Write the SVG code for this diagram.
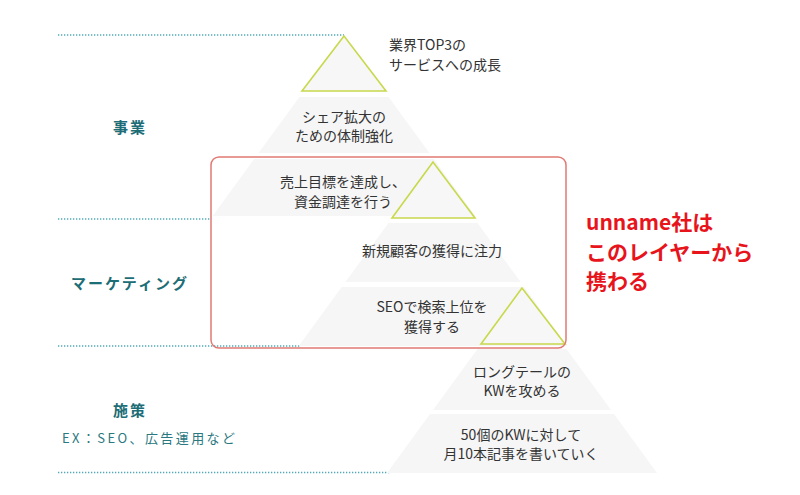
<svg xmlns="http://www.w3.org/2000/svg" width="800" height="495" viewBox="0 0 800 495">
<style>
.band{fill:#f6f6f6;}
.tri{fill:#f7f7f7;stroke:#c9d94c;stroke-width:1.6;stroke-linejoin:miter;}
.dot{stroke:#4fa9b6;stroke-width:1.5;stroke-dasharray:1.3 1.7;fill:none;}
.t{font-family:"Noto Sans CJK JP","Noto Sans",sans-serif;font-size:14px;fill:#333333;text-anchor:middle;}
.tl{text-anchor:start;}
.lab{font-family:"Noto Sans CJK JP","Noto Sans",sans-serif;font-size:15px;font-weight:bold;fill:#1d6d76;text-anchor:middle;letter-spacing:2px;}
.ex{font-family:"Noto Sans CJK JP","Noto Sans",sans-serif;font-size:13px;fill:#2a7880;letter-spacing:2.4px;}
.red{font-family:"Noto Sans CJK JP","Noto Sans",sans-serif;font-size:21px;font-weight:bold;fill:#e8141c;}
</style>
<rect width="800" height="495" fill="#ffffff"/>
<g id="guides">
<line class="dot" x1="58" y1="35" x2="344" y2="35"/>
<line class="dot" x1="58" y1="219" x2="211" y2="219"/>
<line class="dot" x1="58" y1="346" x2="301" y2="346"/>
<line class="dot" x1="58" y1="472.5" x2="390" y2="472.5"/>
</g>
<g id="pyramid1">
<polygon class="band" points="299.5,97 388.5,97 429.4,153 258.6,153"/>
<polygon class="band" points="254.2,159 433.8,159 475.4,216 212.6,216"/>
<polygon class="tri" points="344,36 302,91 386,91"/>
<text class="t tl" x="389" y="50">業界TOP3の</text>
<text class="t tl" x="389" y="70">サービスへの成長</text>
<text class="t" x="344" y="122">シェア拡大の</text>
<text class="t" x="344" y="141">ための体制強化</text>
<text class="t" x="343" y="187">売上目標を達成し、</text>
<text class="t" x="343" y="207">資金調達を行う</text>
</g>
<g id="pyramid2">
<polygon class="band" points="388.5,223 477.5,223 520.6,282 345.4,282"/>
<polygon class="band" points="341.7,287 524.3,287 567.3,346 298.7,346"/>
<polygon class="tri" points="433,162 392,218 475,218"/>
<text class="t" x="432" y="256">新規顧客の獲得に注力</text>
<text class="t" x="432" y="312">SEOで検索上位を</text>
<text class="t" x="432" y="332">獲得する</text>
</g>
<g id="pyramid3">
<polygon class="band" points="477.5,349 566.5,349 611,410 433,410"/>
<polygon class="band" points="430,414 614,414 657,473 387,473"/>
<polygon class="tri" points="522,288 481,344 565,344"/>
<text class="t" x="522" y="377">ロングテールの</text>
<text class="t" x="522" y="396">KWを攻める</text>
<text class="t" x="521" y="440">50個のKWに対して</text>
<text class="t" x="521" y="459">月10本記事を書いていく</text>
</g>
<g id="highlight">
<rect x="211" y="157" width="355" height="191" rx="8" ry="8" fill="none" stroke="#e07a74" stroke-width="1.5"/>
<text class="red" x="586" y="230">unname社は</text>
<text class="red" x="586" y="260">このレイヤーから</text>
<text class="red" x="586" y="289">携わる</text>
</g>
<g id="labels">
<text class="lab" x="130" y="133">事業</text>
<text class="lab" x="130" y="289">マーケティング</text>
<text class="lab" x="130" y="416">施策</text>
<text class="ex" x="62" y="443">EX：SEO、広告運用など</text>
</g>
</svg>
